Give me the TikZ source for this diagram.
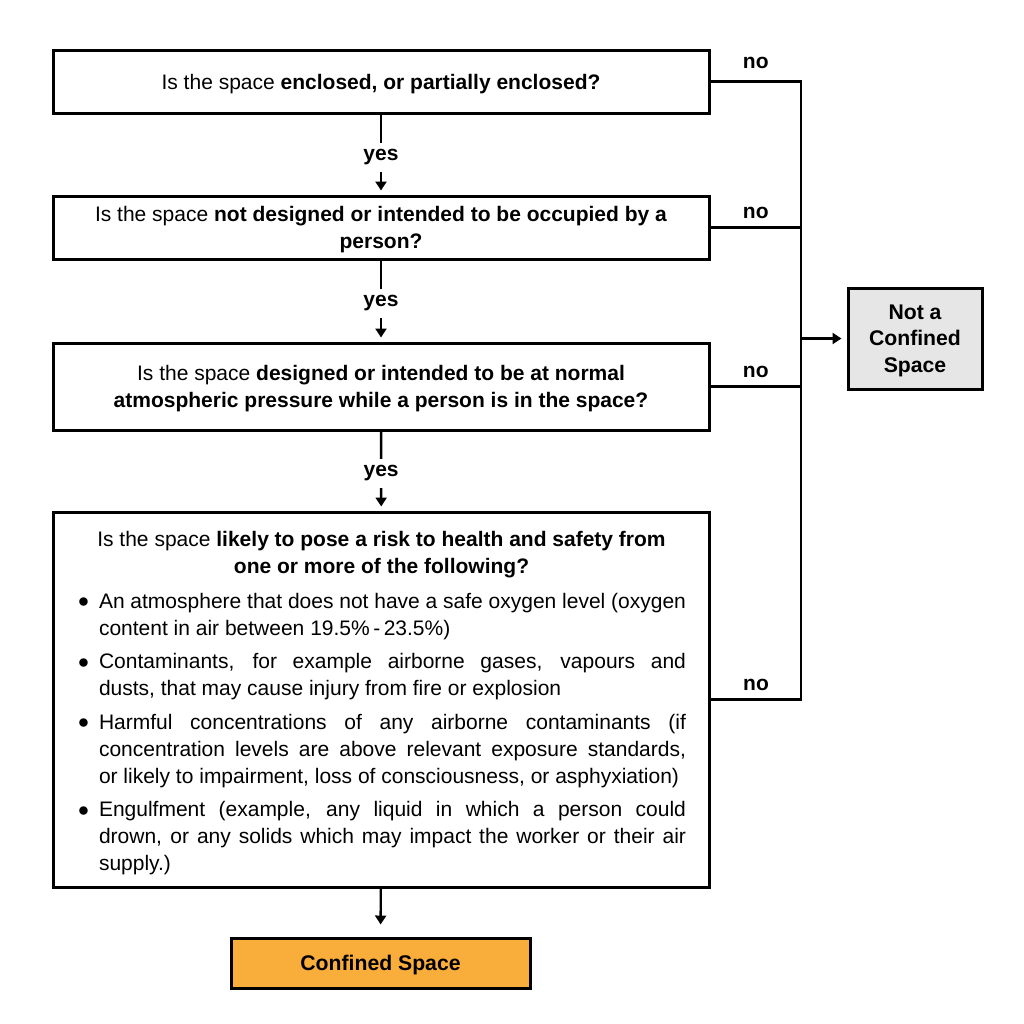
\documentclass[tikz,border=0pt]{standalone}
\usepackage{fontspec}
\setmainfont{Liberation Sans}
\usetikzlibrary{arrows.meta}

\definecolor{confinedfill}{HTML}{F9AE3B}
\definecolor{notconfinedfill}{HTML}{E6E6E6}

\tikzset{
  questionbox/.style={draw, line width=1.5pt, minimum width=328pt, align=center, inner sep=0pt, font=\fontsize{10.5}{13.5}\selectfont},
  question/.style={questionbox, text depth=-1.5pt},
  verdict/.style={draw, line width=1.5pt, align=center, inner sep=0pt, text depth=-1.3pt, font=\bfseries\fontsize{10.6}{13.3}\selectfont},
  flow/.style={line width=1.2pt},
  flowarrow/.style={flow, -{Triangle[length=4.5pt,width=5.5pt]}},
  answer/.style={font=\bfseries\fontsize{10.5}{12}\selectfont},
}

\begin{document}
\begin{tikzpicture}[x=0.5pt, y=-0.5pt]
\useasboundingbox (0,0) rectangle (1024,1024);

% questions
\node [question, minimum height=31.5pt] (q1) at (381, 81.5) {Is the space \textbf{enclosed, or partially enclosed?}};
\node [question, minimum height=31.5pt] (q2) at (381, 227.5) {Is the space \textbf{not designed or intended to be occupied by a}\\\textbf{person?}};
\node [question, minimum height=43.5pt] (q3) at (381, 386.5) {Is the space \textbf{designed or intended to be at normal}\\\textbf{atmospheric pressure while a person is in the space?}};
\node [questionbox, minimum height=187.5pt] (q4) at (381.5, 699.5) {%
\begin{minipage}{304.5pt}
\vspace*{3.5pt}
{\centering Is the space \textbf{likely to pose a risk to health and safety from}\\\textbf{one or more of the following?}\par}
\vspace{4pt}
\begin{list}{\raisebox{0.3pt}{$\bullet$}}{\setlength\leftmargin{11pt}\setlength\labelsep{5pt}\setlength\labelwidth{6pt}%
  \setlength\itemsep{3.3pt}\setlength\parsep{0pt}\setlength\topsep{0pt}\setlength\partopsep{0pt}}
\item An atmosphere that does not have a safe oxygen level (oxygen\linebreak content in air between 19.5\%\,-\,23.5\%)
\item Contaminants, for example airborne gases, vapours and\linebreak dusts, that may cause injury from fire or explosion
\item Harmful concentrations of any airborne contaminants (if\linebreak concentration levels are above relevant exposure standards,\linebreak or likely to impairment, loss of consciousness, or asphyxiation)
\item Engulfment (example, any liquid in which a person could\linebreak drown, or any solids which may impact the worker or their air\linebreak supply.)
\end{list}
\end{minipage}};

% outcomes
\node [verdict, fill=confinedfill, minimum width=149.5pt, minimum height=25pt] (cs) at (380.5, 963) {Confined Space};
\node [verdict, fill=notconfinedfill, minimum width=67pt, minimum height=50.5pt] (ncs) at (915, 338.5) {Not a\\Confined\\Space};

% yes branch
\draw [flowarrow, shorten >=2pt] (q1) -- node [answer, fill=white, yshift=-1.5pt] {yes} (q2);
\draw [flowarrow, shorten >=2pt] (q2) -- node [answer, fill=white, yshift=-1pt] {yes} (q3);
\draw [flowarrow, shorten >=2pt] (q3) -- node [answer, fill=white, yshift=-1pt] {yes} (q4);
\draw [flowarrow, shorten >=6pt] (q4) -- (cs);

% no branch
\coordinate (bus) at (801, 81.5);
\draw [flow] (q1.east) -- node [answer, above=2.5pt] {no} (bus) -- (bus |- q4.east) -- node [answer, above=0.5pt] {no} (q4.east);
\draw [flow] (q2.east) -- node [answer, above=0.5pt] {no} (bus |- q2.east);
\draw [flow] (q3.east) -- node [answer, above=0.5pt] {no} (bus |- q3.east);
\draw [flowarrow, shorten >=2.5pt] (bus |- ncs.west) -- (ncs.west);

\end{tikzpicture}
\end{document}
